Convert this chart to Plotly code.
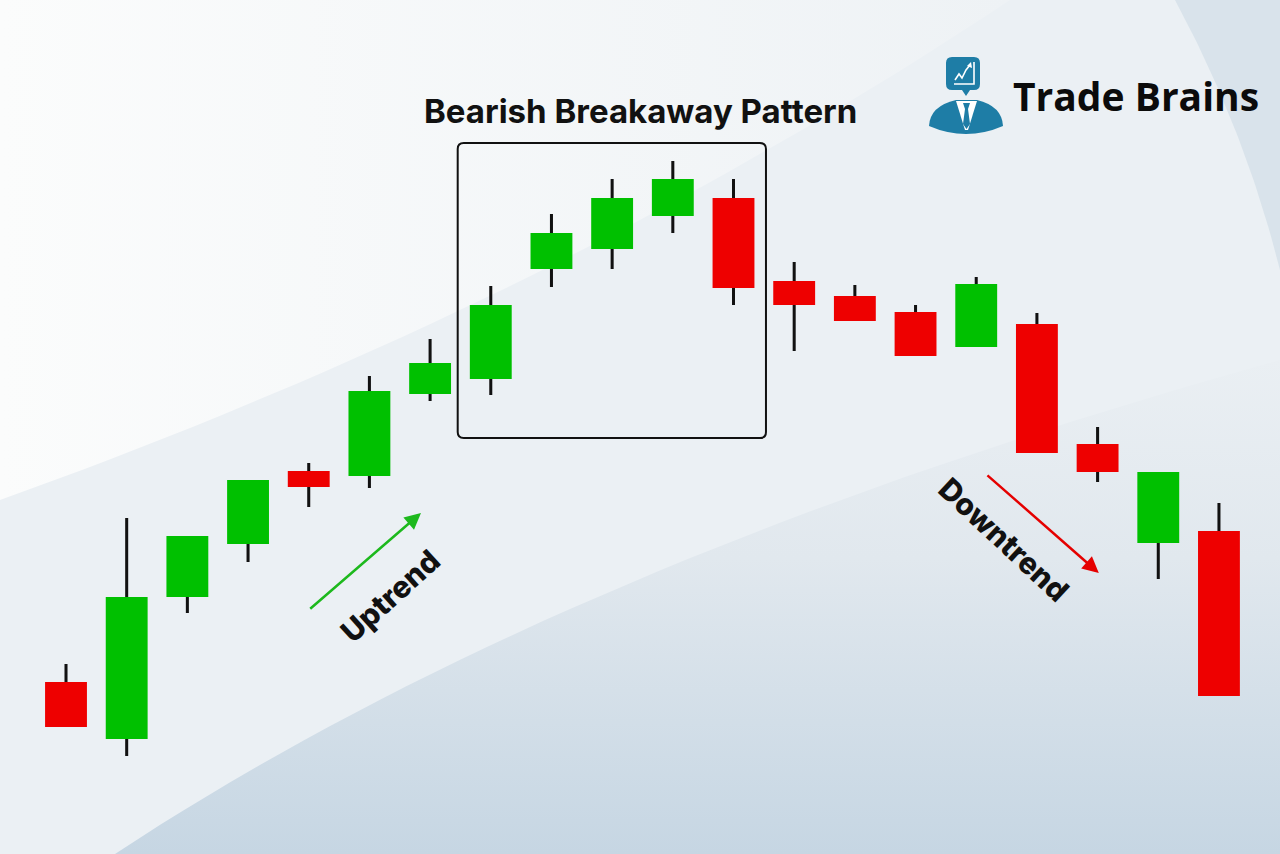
import plotly.graph_objects as go

# ---------------- data ----------------
candles = list(range(1, 21))
open_ = [172, 115, 257, 310, 383, 378, 460, 475, 585, 605, 638, 656, 573, 558, 542, 507, 530, 410, 311, 323]
high = [190, 336, 318, 374, 391, 478, 515, 568, 640, 675, 693, 675, 592, 569, 549, 577, 541, 427, 382, 351]
low = [127, 98, 241, 292, 347, 366, 453, 459, 567, 585, 621, 549, 503, 533, 498, 507, 401, 372, 275, 158]
close = [127, 257, 318, 374, 367, 463, 491, 549, 621, 656, 675, 566, 549, 533, 498, 570, 401, 382, 382, 158]
pattern_first, pattern_last = 8, 12
title_text = "Bearish Breakaway Pattern"
brand_text = "Trade Brains"

GREEN = "#00C000"
RED = "#EE0000"
W, H = 1280, 854

fig = go.Figure()


# ---------------- background (decoration, pixel space on x/y) ----------------
def qbez(p0, p1, p2, n=40):
    pts = []
    for i in range(n + 1):
        t = i / n
        x = (1 - t) ** 2 * p0[0] + 2 * (1 - t) * t * p1[0] + t ** 2 * p2[0]
        y = (1 - t) ** 2 * p0[1] + 2 * (1 - t) * t * p1[1] + t ** 2 * p2[1]
        pts.append((x, y))
    return pts


def region(pts, grad=None, color=None, opacity=1.0):
    xs = [p[0] for p in pts] + [pts[0][0]]
    ys = [p[1] for p in pts] + [pts[0][1]]
    kw = dict(x=xs, y=ys, mode="lines", fill="toself", line=dict(width=0),
              hoverinfo="skip", showlegend=False, opacity=opacity, xaxis="x", yaxis="y")
    if grad is not None:
        kw["fillgradient"] = grad
    else:
        kw["fillcolor"] = color
    fig.add_trace(go.Scatter(**kw))


# top-left bright region
tl = [(0, 0)] + [(1010, 0)] + qbez((1010, 0), (560, 300), (0, 500))[1:]
region(tl, grad=dict(type="horizontal", start=0, stop=1010,
                     colorscale=[[0, "#FBFCFC"], [1, "#EEF2F5"]]))
# bottom-right darker region
br = qbez((115, 854), (560, 560), (1280, 360)) + [(1280, 854)]
region(br, grad=dict(type="vertical", start=360, stop=854,
                     colorscale=[[0, "#EAEFF3"], [0.4, "#E1E8EE"], [1, "#C6D6E3"]]))
# top-right darker corner
tr = qbez((1175, 0), (1245, 130), (1280, 270)) + [(1280, 0)]
region(tr, color="rgba(205,218,229,0.6)")

# ---------------- candles (bars on x2/y2) ----------------
wick_base = low
wick_len = [h - l for h, l in zip(high, low)]
fig.add_trace(go.Bar(x=candles, y=wick_len, base=wick_base, width=0.05,
                     marker=dict(color="#111111", line=dict(width=0)),
                     hoverinfo="skip", showlegend=False, xaxis="x2", yaxis="y2"))

body_base = [min(o, c) for o, c in zip(open_, close)]
body_len = [abs(c - o) for o, c in zip(open_, close)]
body_col = [GREEN if c > o else RED for o, c in zip(open_, close)]
fig.add_trace(go.Bar(x=candles, y=body_len, base=body_base, width=0.69,
                     marker=dict(color=body_col, line=dict(width=0)),
                     hoverinfo="skip", showlegend=False, xaxis="x2", yaxis="y2"))

# ---------------- pattern box ----------------
sel = slice(pattern_first - 1, pattern_last)
bx0 = pattern_first - 0.545
bx1 = pattern_last + 0.535
by1 = max(high[sel]) + 18
by0 = min(low[sel]) - 43
rx, ry = 0.1, 6
box_path = (f"M {bx0+rx},{by1} L {bx1-rx},{by1} Q {bx1},{by1} {bx1},{by1-ry} "
            f"L {bx1},{by0+ry} Q {bx1},{by0} {bx1-rx},{by0} L {bx0+rx},{by0} "
            f"Q {bx0},{by0} {bx0},{by0+ry} L {bx0},{by1-ry} Q {bx0},{by1} {bx0+rx},{by1} Z")
shapes = [dict(type="path", path=box_path, xref="x2", yref="y2",
               line=dict(color="#111111", width=2), fillcolor="rgba(0,0,0,0)")]

# ---------------- logo icon (pixel space x/y) ----------------
LOGO = "#1E7DA6"
shapes += [
    dict(type="path", xref="x", yref="y", fillcolor=LOGO, line=dict(width=0),
         path="M 952,57 L 974,57 Q 980,57 980,63 L 980,84 Q 980,90 974,90 L 970,90 L 966,96 L 962,90 "
              "L 952,90 Q 946,90 946,84 L 946,63 Q 946,57 952,57 Z"),
    dict(type="path", xref="x", yref="y", line=dict(color="white", width=1.6),
         path="M 974,62 L 974,84 L 954,84"),
    dict(type="path", xref="x", yref="y", line=dict(color="white", width=1.6),
         path="M 955,80 L 959,74 L 962,78 L 966,70 L 970,65"),
    dict(type="path", xref="x", yref="y", fillcolor="white", line=dict(width=0),
         path="M 971,62 L 972,68 L 967,66 Z"),
    dict(type="path", xref="x", yref="y", fillcolor=LOGO, line=dict(width=0),
         path="M 929,126 Q 930,106 956,100 L 977,100 Q 1002,106 1003,126 Q 966,142 929,126 Z"),
    dict(type="path", xref="x", yref="y", fillcolor="white", line=dict(width=0),
         path="M 956,101 L 977,101 L 968,130 L 965,130 Z"),
    dict(type="path", xref="x", yref="y", fillcolor=LOGO, line=dict(width=0),
         path="M 963,103 L 970,103 L 968,109 L 970,124 L 966.5,129 L 963,124 L 965,109 Z"),
]

# ---------------- annotations ----------------
annotations = [
    dict(text=title_text, xref="paper", yref="paper", x=0.5, y=1 - 111 / H,
         showarrow=False, font=dict(family="Inter", size=33, color="#111111", weight=700),
         xanchor="center", yanchor="middle"),
    dict(text=brand_text, xref="x", yref="y", x=1136, y=95, showarrow=False,
         font=dict(family="Open Sans", size=39, color="#0B0B0B", weight=700),
         xanchor="center", yanchor="middle"),
    dict(x=6.85, y=341, ax=5.0, ay=244, xref="x2", yref="y2", axref="x2", ayref="y2",
         text="", showarrow=True, arrowhead=2, arrowsize=1.3, arrowwidth=2.5, arrowcolor="#1DB91D"),
    dict(text="Uptrend", xref="x2", yref="y2", x=6.34, y=258, textangle=-42, showarrow=False,
         font=dict(family="Inter", size=30, color="#111111", weight=800)),
    dict(x=18.02, y=281, ax=16.16, ay=380, xref="x2", yref="y2", axref="x2", ayref="y2",
         text="", showarrow=True, arrowhead=2, arrowsize=1.3, arrowwidth=2.5, arrowcolor="#E50000"),
    dict(text="Downtrend", xref="x2", yref="y2", x=16.45, y=315, textangle=43, showarrow=False,
         font=dict(family="Inter", size=30, color="#111111", weight=800)),
]

fig.update_layout(
    width=W, height=H, margin=dict(l=0, r=0, t=0, b=0),
    paper_bgcolor="#EBF0F4", plot_bgcolor="rgba(0,0,0,0)",
    showlegend=False, barmode="overlay",
    xaxis=dict(range=[0, W], visible=False, fixedrange=True),
    yaxis=dict(range=[H, 0], visible=False, fixedrange=True),
    xaxis2=dict(range=[-0.0877, 21.006], visible=False, overlaying="x", anchor="y2", fixedrange=True),
    yaxis2=dict(range=[0, H], visible=False, overlaying="y", anchor="x2", fixedrange=True),
    shapes=shapes, annotations=annotations,
)

fig.write_html("out.html", config={"displayModeBar": False},
               post_script="document.body.style.margin='0';document.body.style.overflow='hidden';")
